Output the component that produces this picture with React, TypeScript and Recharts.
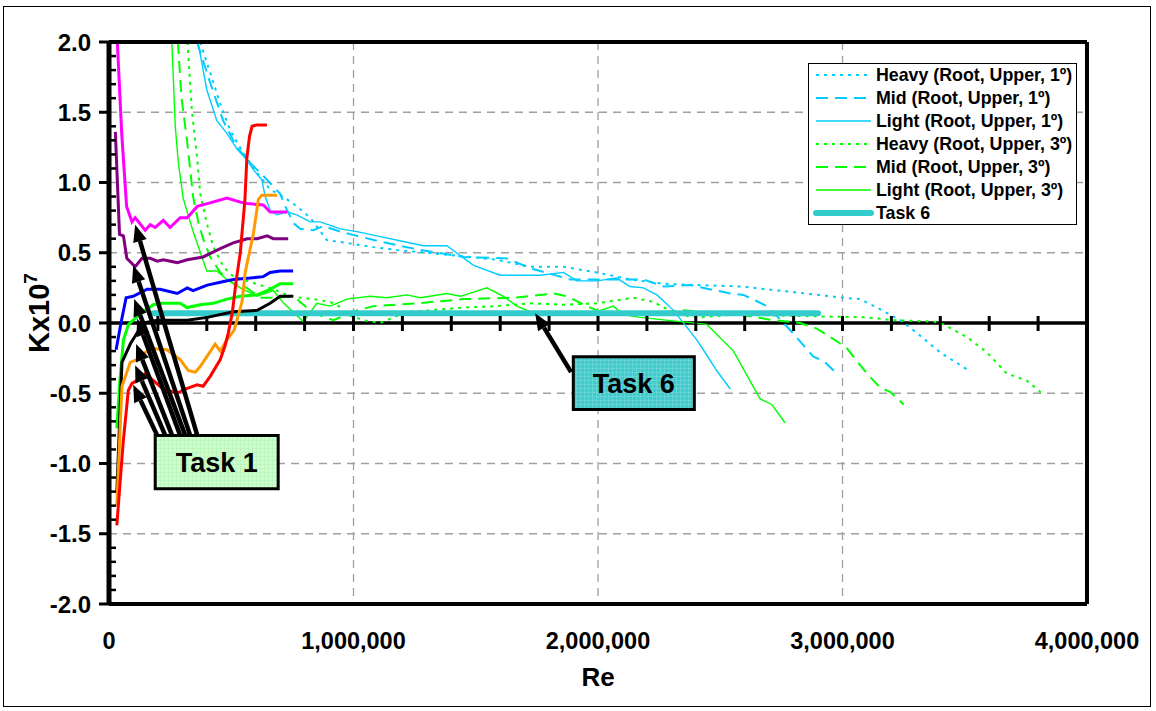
import React from "react";
import {
  LineChart,
  Line,
  XAxis,
  YAxis,
  CartesianGrid,
  ReferenceLine,
  ReferenceDot,
  ReferenceArea,
  Legend,
  Label,
} from "recharts";

type Pt = [number, number];

const FONT = "'Liberation Sans', Arial, Helvetica, sans-serif";

// Task 1 runs (no legend entry, pointed at by the "Task 1" callout)
const magentaRun: Pt[] = [[34000, 2.0], [52000, 1.35], [72000, 0.83], [94000, 0.72], [107000, 0.75], [148000, 0.66], [169000, 0.7], [189000, 0.68], [222000, 0.73], [250000, 0.68], [291000, 0.75], [320000, 0.75], [361000, 0.83], [402000, 0.85], [483000, 0.89], [537000, 0.86], [565000, 0.85], [631000, 0.84], [659000, 0.79], [729000, 0.79]];
const purpleRun: Pt[] = [[26000, 1.36], [43000, 0.63], [59000, 0.62], [73000, 0.46], [107000, 0.4], [135000, 0.46], [169000, 0.46], [197000, 0.44], [222000, 0.45], [279000, 0.43], [320000, 0.45], [385000, 0.47], [455000, 0.53], [508000, 0.57], [565000, 0.6], [606000, 0.6], [647000, 0.62], [672000, 0.6], [733000, 0.6]];
const blueRun: Pt[] = [[29000, -0.19], [49000, 0.0], [70000, 0.18], [99000, 0.19], [156000, 0.24], [209000, 0.24], [279000, 0.21], [320000, 0.25], [344000, 0.23], [402000, 0.27], [455000, 0.29], [508000, 0.31], [577000, 0.32], [631000, 0.33], [659000, 0.36], [700000, 0.37], [753000, 0.37]];
const greenRun: Pt[] = [[32000, -0.75], [45000, -0.4], [59000, -0.12], [80000, -0.01], [99000, 0.02], [140000, 0.08], [181000, 0.13], [216000, 0.14], [291000, 0.14], [319000, 0.11], [373000, 0.13], [426000, 0.14], [482000, 0.17], [537000, 0.19], [605000, 0.2], [659000, 0.24], [700000, 0.28], [753000, 0.28]];
const blackRun: Pt[] = [[32000, -1.21], [53000, -0.28], [87000, -0.15], [140000, 0.0], [197000, 0.02], [320000, 0.02], [402000, 0.04], [508000, 0.08], [606000, 0.09], [659000, 0.14], [700000, 0.19], [753000, 0.19]];
const orangeRun: Pt[] = [[32000, -1.3], [53000, -0.45], [87000, -0.28], [114000, -0.26], [169000, -0.18], [237000, -0.19], [291000, -0.26], [325000, -0.34], [353000, -0.35], [373000, -0.31], [434000, -0.15], [455000, -0.2], [482000, -0.12], [512000, -0.05], [544000, 0.15], [557000, 0.36], [591000, 0.64], [611000, 0.88], [625000, 0.91], [687000, 0.91]];
const redRun: Pt[] = [[32000, -1.44], [58000, -0.85], [79000, -0.48], [94000, -0.43], [114000, -0.41], [148000, -0.36], [222000, -0.47], [278000, -0.5], [312000, -0.47], [360000, -0.44], [385000, -0.45], [414000, -0.38], [455000, -0.26], [475000, -0.16], [488000, -0.07], [504000, 0.07], [520000, 0.3], [537000, 0.5], [556000, 0.88], [564000, 1.18], [575000, 1.33], [585000, 1.4], [605000, 1.41], [646000, 1.41]];

// Legend series
const heavy1: Pt[] = [[373000, 2.0], [414000, 1.78], [455000, 1.56], [496000, 1.37], [549000, 1.21], [606000, 1.07], [659000, 0.95], [712000, 0.9], [768000, 0.83], [823000, 0.75], [891000, 0.59], [973000, 0.57], [1081000, 0.54], [1177000, 0.52], [1300000, 0.5], [1477000, 0.47], [1587000, 0.45], [1723000, 0.4], [1858000, 0.4], [1995000, 0.36], [2131000, 0.31], [2266000, 0.28], [2404000, 0.27], [2582000, 0.26], [2798000, 0.22], [3003000, 0.18], [3072000, 0.17], [3141000, 0.11], [3236000, 0.02], [3304000, -0.07], [3400000, -0.21], [3509000, -0.33]];
const mid1: Pt[] = [[360000, 2.0], [414000, 1.71], [467000, 1.44], [523000, 1.25], [578000, 1.14], [646000, 1.02], [700000, 0.92], [721000, 0.83], [755000, 0.71], [782000, 0.67], [836000, 0.66], [877000, 0.69], [946000, 0.65], [1014000, 0.62], [1109000, 0.58], [1273000, 0.52], [1450000, 0.47], [1627000, 0.46], [1723000, 0.39], [1886000, 0.31], [2186000, 0.31], [2268000, 0.26], [2377000, 0.27], [2541000, 0.21], [2595000, 0.2], [2691000, 0.12], [2732000, 0.05], [2786000, -0.05], [2881000, -0.24], [2922000, -0.27], [2977000, -0.36]];
const light1: Pt[] = [[364000, 2.0], [400000, 1.66], [441000, 1.44], [482000, 1.35], [523000, 1.24], [564000, 1.16], [591000, 1.09], [625000, 1.02], [639000, 0.9], [659000, 0.8], [687000, 0.77], [728000, 0.79], [768000, 0.77], [823000, 0.72], [864000, 0.72], [946000, 0.67], [1014000, 0.65], [1096000, 0.62], [1204000, 0.58], [1286000, 0.55], [1382000, 0.55], [1491000, 0.41], [1600000, 0.34], [1764000, 0.34], [1859000, 0.36], [1914000, 0.3], [1995000, 0.3], [2077000, 0.32], [2131000, 0.26], [2186000, 0.25], [2241000, 0.2], [2309000, 0.09], [2404000, -0.12], [2438000, -0.21], [2486000, -0.34], [2541000, -0.47]];
const heavy3: Pt[] = [[321000, 2.0], [339000, 1.51], [360000, 1.18], [373000, 0.92], [400000, 0.71], [427000, 0.54], [468000, 0.4], [509000, 0.33], [564000, 0.3], [618000, 0.27], [673000, 0.24], [728000, 0.2], [782000, 0.18], [836000, 0.17], [905000, 0.15], [940000, 0.12], [973000, 0.06], [1041000, 0.02], [1109000, 0.0], [1218000, 0.08], [1314000, 0.09], [1450000, 0.11], [1587000, 0.12], [1723000, 0.14], [1859000, 0.13], [1995000, 0.14], [2145000, 0.18], [2227000, 0.15], [2323000, 0.06], [2418000, 0.04], [2554000, 0.06], [2827000, 0.05], [3100000, 0.04], [3209000, 0.02], [3372000, 0.01], [3413000, -0.01], [3509000, -0.1], [3591000, -0.21], [3672000, -0.36], [3754000, -0.41], [3822000, -0.51]];
const mid3: Pt[] = [[282000, 2.0], [296000, 1.61], [319000, 1.3], [344000, 0.9], [366000, 0.71], [387000, 0.59], [414000, 0.47], [455000, 0.36], [509000, 0.28], [564000, 0.25], [618000, 0.18], [687000, 0.18], [755000, 0.19], [836000, 0.07], [918000, 0.02], [1014000, 0.09], [1082000, 0.12], [1259000, 0.14], [1450000, 0.17], [1654000, 0.18], [1818000, 0.21], [1873000, 0.19], [1955000, 0.12], [2009000, 0.08], [2173000, 0.06], [2350000, 0.09], [2582000, 0.06], [2718000, 0.02], [2827000, 0.0], [2895000, -0.04], [2977000, -0.13], [3018000, -0.18], [3100000, -0.36], [3154000, -0.46], [3195000, -0.49], [3250000, -0.58]];
const light3: Pt[] = [[257000, 2.0], [271000, 1.4], [283000, 1.15], [303000, 0.89], [346000, 0.64], [400000, 0.37], [441000, 0.37], [482000, 0.31], [537000, 0.25], [605000, 0.19], [673000, 0.23], [715000, 0.14], [795000, 0.01], [850000, 0.14], [905000, 0.12], [973000, 0.17], [1068000, 0.19], [1137000, 0.18], [1218000, 0.2], [1273000, 0.18], [1382000, 0.21], [1437000, 0.19], [1546000, 0.25], [1613000, 0.19], [1668000, 0.12], [1723000, 0.08], [1995000, 0.08], [2063000, 0.12], [2104000, 0.06], [2173000, 0.04], [2336000, 0.01], [2445000, -0.01], [2554000, -0.2], [2663000, -0.54], [2711000, -0.58], [2765000, -0.71]];
const task6: Pt[] = [[181000, 0.07], [2900000, 0.07]];

const xTicks = [0, 1000000, 2000000, 3000000, 4000000];
const yTicks = [-2, -1.5, -1, -0.5, 0, 0.5, 1, 1.5, 2];
const yMinorTicks = [-1.9, -1.8, -1.7, -1.6, -1.4, -1.3, -1.2, -1.1, -0.9, -0.8, -0.7, -0.6, -0.4, -0.3, -0.2, -0.1, 0.1, 0.2, 0.3, 0.4, 0.6, 0.7, 0.8, 0.9, 1.1, 1.2, 1.3, 1.4, 1.6, 1.7, 1.8, 1.9];
const zeroLineTicks = [200000, 400000, 600000, 800000, 1000000, 1200000, 1400000, 1600000, 1800000, 2000000, 2200000, 2400000, 2600000, 2800000, 3000000, 3200000, 3400000, 3600000, 3800000];

// callouts: [tail, tip] in data units
const task1Arrows: [Pt, Pt][] = [
  [[361000, -0.8], [107000, 0.7]],
  [[332000, -0.8], [99000, 0.41]],
  [[312000, -0.8], [103000, 0.17]],
  [[291000, -0.8], [115000, 0.03]],
  [[258000, -0.8], [111000, -0.15]],
  [[230000, -0.8], [107000, -0.3]],
  [[197000, -0.8], [99000, -0.44]],
];
const task6Arrow: [Pt, Pt] = [[1890000, -0.35], [1743000, 0.07]];
const task1Box = { x1: 189000, x2: 692000, y1: -1.18, y2: -0.8 };
const task6Box = { x1: 1899000, x2: 2394000, y1: -0.616, y2: -0.24 };

type Series = { name: string; data: Pt[]; color: string; width: number; dash?: string; legend: boolean; cap?: "round" | "butt" };

const CYAN = "#00CCFF";
const LIME = "#00FF00";

const backSeries: Series[] = [
  { name: "Heavy (Root, Upper, 1º)", data: heavy1, color: CYAN, width: 2, dash: "3 5", legend: true },
  { name: "Mid (Root, Upper, 1º)", data: mid1, color: CYAN, width: 2, dash: "12 7", legend: true },
  { name: "Light (Root, Upper, 1º)", data: light1, color: CYAN, width: 1.4, legend: true },
  { name: "Heavy (Root, Upper, 3º)", data: heavy3, color: LIME, width: 2, dash: "3 5", legend: true },
  { name: "Mid (Root, Upper, 3º)", data: mid3, color: LIME, width: 2, dash: "12 7", legend: true },
  { name: "Light (Root, Upper, 3º)", data: light3, color: LIME, width: 1.4, legend: true },
  { name: "Task 6", data: task6, color: "#33CCCC", width: 6, legend: true, cap: "round" },
];

const task1Series: Series[] = [
  { name: "t1-magenta", data: magentaRun, color: "#FF00FF", width: 3, legend: false },
  { name: "t1-purple", data: purpleRun, color: "#800080", width: 3, legend: false },
  { name: "t1-blue", data: blueRun, color: "#0000FF", width: 3, legend: false },
  { name: "t1-green", data: greenRun, color: LIME, width: 3, legend: false },
  { name: "t1-black", data: blackRun, color: "#000000", width: 3, legend: false },
  { name: "t1-orange", data: orangeRun, color: "#FF9900", width: 3, legend: false },
  { name: "t1-red", data: redRun, color: "#FF0000", width: 3, legend: false },
];

const toPts = (a: Pt[]) => a.map(([x, y]) => ({ x, y }));

const Arrow = (p: any) => {
  const { x1, y1, x2, y2 } = p;
  const ang = Math.atan2(y2 - y1, x2 - x1);
  const L = 17;
  const W = 7;
  const bx = x2 - L * Math.cos(ang);
  const by = y2 - L * Math.sin(ang);
  const s = Math.sin(ang);
  const c = Math.cos(ang);
  const pts = `${x2},${y2} ${bx + W * s},${by - W * c} ${bx - W * s},${by + W * c}`;
  return (
    <g>
      <line x1={x1} y1={y1} x2={bx} y2={by} stroke="#000" strokeWidth={4.5} />
      <polygon points={pts} fill="#000" />
    </g>
  );
};

const renderLegend = () => (
  <div
    style={{
      border: "1px solid #000",
      background: "#fff",
      width: 269,
      height: 162,
      boxSizing: "border-box",
      fontFamily: FONT,
      fontWeight: "bold",
      fontSize: 17.8,
      color: "#000",
    }}
  >
    {backSeries.filter((s) => s.legend).map((s) => (
      <div key={s.name} style={{ display: "flex", alignItems: "center", height: 22.9 }}>
        <svg width={67} height={12} style={{ flex: "none" }}>
          <line x1={7} x2={62} y1={6} y2={6} stroke={s.color} strokeWidth={s.width} strokeDasharray={s.dash} strokeLinecap={s.cap || "butt"} />
        </svg>
        <span style={{ whiteSpace: "nowrap", lineHeight: "20px" }}>{s.name}</span>
      </div>
    ))}
  </div>
);

const fmtX = (v: number) => v.toLocaleString("en-US");

export default function App() {
  return (
    <div style={{ position: "absolute", left: 0, top: 0, width: 1156, height: 711, background: "#fff" }}>
      <div style={{ position: "absolute", left: 3, top: 6, width: 1148, height: 701, border: "1.5px solid #000", boxSizing: "border-box" }} />
      <LineChart width={1156} height={711} margin={{ top: 42, right: 69, bottom: 47, left: 0 }}>
        <defs>
          <pattern id="task1Fill" width="4" height="4" patternUnits="userSpaceOnUse">
            <rect width="4" height="4" fill="#CCFFCC" />
            <path d="M0 0H4M0 0V4" stroke="#B5EEB5" strokeWidth="1" />
          </pattern>
          <pattern id="task6Fill" width="4" height="4" patternUnits="userSpaceOnUse">
            <rect width="4" height="4" fill="#40CCCC" />
            <path d="M0 0H4M0 0V4" stroke="#7FDDDD" strokeWidth="1" />
          </pattern>
        </defs>
        <CartesianGrid stroke="#A0A0A0" strokeDasharray="8 6" strokeWidth={1.3} />
        <XAxis
          type="number"
          dataKey="x"
          domain={[0, 4000000]}
          ticks={xTicks}
          allowDataOverflow
          height={60}
          tickLine={false}
          tickSize={10}
          tickMargin={18}
          axisLine={{ stroke: "#000", strokeWidth: 4 }}
          tickFormatter={fmtX}
          tick={{ fontSize: 23.5, fontWeight: "bold", fill: "#000", fontFamily: FONT }}
        >
          <Label
            content={(p: any) => {
              const vb = p.viewBox || {};
              return (
                <text x={vb.x + vb.width / 2} y={vb.y + 82} textAnchor="middle" fontSize={26} fontWeight="bold" fontFamily={FONT} fill="#000">
                  Re
                </text>
              );
            }}
          />
        </XAxis>
        <YAxis
          type="number"
          dataKey="y"
          domain={[-2, 2]}
          ticks={yTicks}
          allowDataOverflow
          width={109}
          tickSize={10}
          tickMargin={8}
          tickLine={{ stroke: "#000", strokeWidth: 3 }}
          axisLine={{ stroke: "#000", strokeWidth: 5 }}
          tickFormatter={(v: number) => v.toFixed(1)}
          tick={{ fontSize: 24, fontWeight: "bold", fill: "#000", fontFamily: FONT }}
        >
          <Label
            content={(p: any) => {
              const vb = p.viewBox || {};
              const cx = vb.x + 49;
              const cy = vb.y + vb.height / 2 - 10;
              return (
                <text x={cx} y={cy} transform={`rotate(-90, ${cx}, ${cy})`} textAnchor="middle" fontSize={29} fontWeight="bold" fontFamily={FONT} fill="#000">
                  Kx10<tspan dy={-12} fontSize={19}>7</tspan>
                </text>
              );
            }}
          />
        </YAxis>

        <ReferenceLine y={0} stroke="#000" strokeWidth={3.5} />
        {zeroLineTicks.map((v) => (
          <ReferenceDot
            key={`z${v}`}
            x={v}
            y={0}
            shape={(p: any) => <line x1={p.cx} x2={p.cx} y1={p.cy - 7} y2={p.cy + 8} stroke="#000" strokeWidth={3} />}
          />
        ))}
        {yMinorTicks.map((v) => (
          <ReferenceDot
            key={`m${v}`}
            x={0}
            y={v}
            shape={(p: any) => <line x1={p.cx} x2={p.cx + 7} y1={p.cy} y2={p.cy} stroke="#000" strokeWidth={2.5} />}
          />
        ))}

        {backSeries.map((s) => (
          <Line
            key={s.name}
            name={s.name}
            data={toPts(s.data)}
            dataKey="y"
            type="linear"
            stroke={s.color}
            strokeWidth={s.width}
            strokeDasharray={s.dash}
            strokeLinecap={s.cap || "butt"}
            dot={false}
            activeDot={false}
            isAnimationActive={false}
          />
        ))}
        {task1Series.map((s) => (
          <Line
            key={s.name}
            name={s.name}
            data={toPts(s.data)}
            dataKey="y"
            type="linear"
            stroke={s.color}
            strokeWidth={s.width}
            dot={false}
            activeDot={false}
            legendType="none"
            isAnimationActive={false}
          />
        ))}

        <ReferenceLine y={2} stroke="#000" strokeWidth={4} />
        <ReferenceLine x={4000000} stroke="#000" strokeWidth={4} />

        <ReferenceArea
          {...task1Box}
          fill="url(#task1Fill)"
          fillOpacity={1}
          stroke="#000"
          strokeWidth={3}
          label={{ value: "Task 1", position: "center", fontSize: 27, fontWeight: "bold", fill: "#000", fontFamily: FONT }}
        />
        <ReferenceArea
          {...task6Box}
          fill="url(#task6Fill)"
          fillOpacity={1}
          stroke="#000"
          strokeWidth={3}
          label={{ value: "Task 6", position: "center", fontSize: 27, fontWeight: "bold", fill: "#000", fontFamily: FONT }}
        />
        {task1Arrows.map(([tail, tip], i) => (
          <ReferenceLine
            key={`a${i}`}
            segment={[{ x: tail[0], y: tail[1] }, { x: tip[0], y: tip[1] }]}
            shape={Arrow}
          />
        ))}
        <ReferenceLine
          segment={[{ x: task6Arrow[0][0], y: task6Arrow[0][1] }, { x: task6Arrow[1][0], y: task6Arrow[1][1] }]}
          shape={Arrow}
        />

        <Legend
          layout="vertical"
          align="center"
          verticalAlign="middle"
          content={renderLegend}
          wrapperStyle={{ left: 808, top: 63, width: 269, height: 162 }}
        />
      </LineChart>
    </div>
  );
}
